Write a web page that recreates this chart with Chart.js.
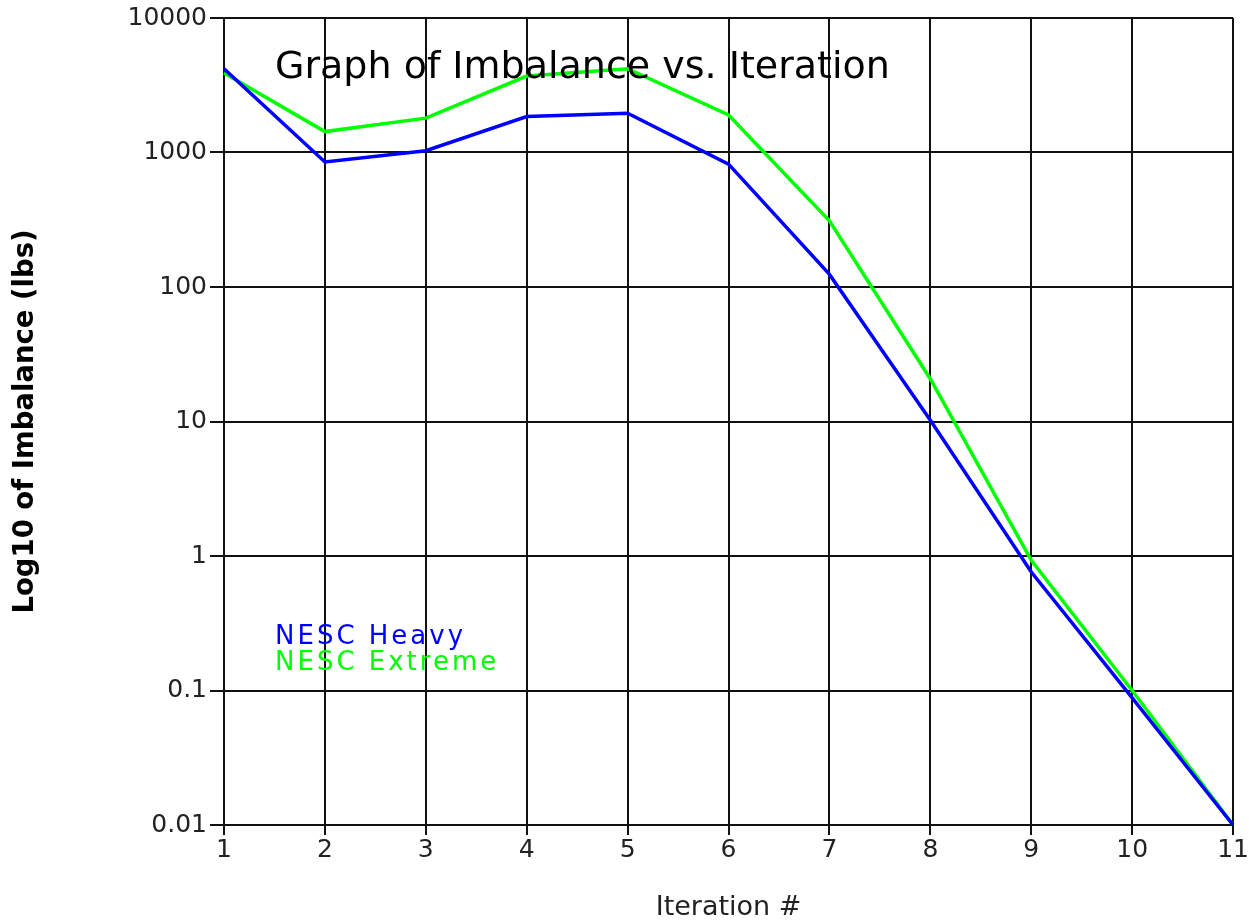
<!DOCTYPE html>
<html>
<head>
<meta charset="utf-8">
<script src="https://cdn.jsdelivr.net/npm/chart.js@4.4.0/dist/chart.umd.min.js"></script>
<style>
html,body{margin:0;padding:0;background:#fff;}
#wrap{width:1249px;height:921px;}
</style>
</head>
<body>
<div id="wrap"><canvas id="c" width="1249" height="921"></canvas></div>
<script>
const iterations = ['1','2','3','4','5','6','7','8','9','10','11'];
const nescHeavy = [4200, 850, 1030, 1850, 1960, 820, 124, 10.2, 0.76, 0.088, 0.01];
const nescExtreme = [3900, 1430, 1800, 3700, 4200, 1900, 310, 20.7, 0.93, 0.1, 0.01];
const yTickValues = [0.01, 0.1, 1, 10, 100, 1000, 10000];
const yTickLabels = ['0.01', '0.1', '1', '10', '100', '1000', '10000'];
const chartTitle = 'Graph of Imbalance vs. Iteration';
const xTitle = 'Iteration #';
const yTitle = 'Log10 of Imbalance (lbs)';

const overlay = {
  id: 'overlay',
  afterDatasetsDraw(chart) {
    const ctx = chart.ctx;
    const a = chart.chartArea;
    ctx.save();
    ctx.textBaseline = 'alphabetic';
    ctx.textAlign = 'left';
    ctx.fillStyle = '#000';
    ctx.font = '38px "DejaVu Sans"';
    ctx.fillText(chartTitle, a.left + 51, a.top + 60);
    ctx.font = '26px "DejaVu Sans"';
    if ('letterSpacing' in ctx) ctx.letterSpacing = '3px';
    chart.data.datasets.forEach((ds, i) => {
      ctx.fillStyle = ds.borderColor;
      ctx.fillText(ds.label, a.left + 51, a.top + 626 + i * 26);
    });
    ctx.restore();
  }
};

new Chart(document.getElementById('c'), {
  type: 'line',
  data: {
    labels: iterations,
    datasets: [
      { label: 'NESC Heavy', data: nescHeavy, borderColor: '#0000ff', borderWidth: 3.5, pointRadius: 0, tension: 0, fill: false },
      { label: 'NESC Extreme', data: nescExtreme, borderColor: '#00ff00', borderWidth: 3.5, pointRadius: 0, tension: 0, fill: false }
    ]
  },
  options: {
    responsive: false,
    animation: false,
    layout: { padding: { left: 6, right: 15, top: 17, bottom: 0 } },
    plugins: { legend: { display: false }, title: { display: false }, tooltip: { enabled: false } },
    scales: {
      x: {
        type: 'category',
        offset: false,
        grid: { color: '#111', lineWidth: 2, tickLength: 10, drawTicks: true, tickColor: '#111' },
        border: { color: '#111', width: 2 },
        ticks: { color: '#222', font: { family: 'DejaVu Sans', size: 25 }, padding: 0, maxRotation: 0, autoSkip: false },
        title: { display: true, text: xTitle, color: '#222', font: { family: 'DejaVu Sans', size: 27 }, padding: { top: 0, bottom: -3 } },
        afterFit(s) { s.height = 96; }
      },
      y: {
        type: 'logarithmic',
        min: 0.01,
        max: 10000,
        afterBuildTicks(s) { s.ticks = yTickValues.map(v => ({ value: v })); },
        grid: { color: '#111', lineWidth: 2, tickLength: 14, drawTicks: true, tickColor: '#111' },
        border: { color: '#111', width: 2 },
        ticks: {
          color: '#222', font: { family: 'DejaVu Sans', size: 25 }, padding: 3,
          callback(v) { const i = yTickValues.indexOf(v); return i >= 0 ? yTickLabels[i] : ''; }
        },
        title: { display: true, text: yTitle, color: '#000', font: { family: 'DejaVu Sans', size: 27.5, weight: 'bold' }, padding: { top: 3, bottom: 0 } },
        afterFit(s) { s.width = 218; }
      }
    }
  },
  plugins: [overlay]
});
</script>
</body>
</html>
